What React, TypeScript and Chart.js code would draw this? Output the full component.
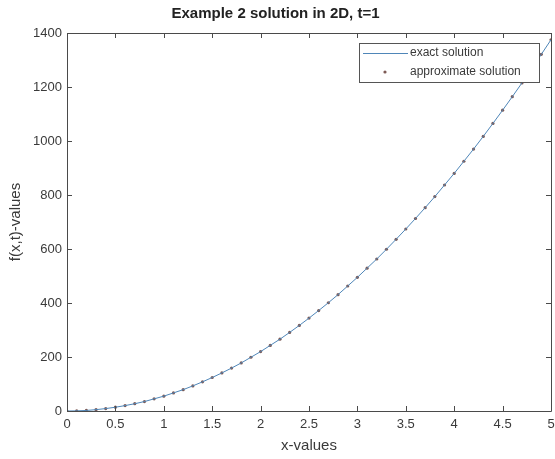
import React, { useEffect, useRef } from "react";
import { Chart, registerables } from "chart.js";

Chart.register(...registerables);

const titleText = "Example 2 solution in 2D, t=1";
const xAxisLabel = "x-values";
const yAxisLabel = "f(x,t)-values";
const exactLabel = "exact solution";
const approxLabel = "approximate solution";

const xValues = [
  0, 0.1, 0.2, 0.3, 0.4, 0.5, 0.6, 0.7, 0.8, 0.9,
  1.0, 1.1, 1.2, 1.3, 1.4, 1.5, 1.6, 1.7, 1.8, 1.9,
  2.0, 2.1, 2.2, 2.3, 2.4, 2.5, 2.6, 2.7, 2.8, 2.9,
  3.0, 3.1, 3.2, 3.3, 3.4, 3.5, 3.6, 3.7, 3.8, 3.9,
  4.0, 4.1, 4.2, 4.3, 4.4, 4.5, 4.6, 4.7, 4.8, 4.9, 5.0,
];

const exactValues = [
  0, 0.5, 2, 5, 9, 14, 20, 27, 35, 45,
  55, 67, 79, 93, 108, 124, 141, 159, 178, 199,
  220, 243, 266, 291, 317, 344, 372, 401, 431, 463,
  495, 529, 563, 599, 636, 674, 713, 753, 794, 837,
  880, 925, 970, 1017, 1065, 1114, 1164, 1215, 1267, 1321, 1375,
];

const approxValues = [
  0, 0.5, 2, 5, 9, 14, 20, 27, 35, 45,
  55, 67, 79, 93, 108, 124, 141, 159, 178, 199,
  220, 243, 266, 291, 317, 344, 372, 401, 431, 463,
  495, 529, 563, 599, 636, 674, 713, 753, 794, 837,
  880, 925, 970, 1017, 1065, 1114, 1164, 1215, 1267, 1321, 1375,
];

const xTicks = [0, 0.5, 1, 1.5, 2, 2.5, 3, 3.5, 4, 4.5, 5];
const yTicks = [0, 200, 400, 600, 800, 1000, 1200, 1400];

const FONT = "'Liberation Sans', Arial, Helvetica, sans-serif";
const AXIS_COLOR = "#4a4a4a";
const TEXT_COLOR = "#3a3a3a";
const LINE_COLOR = "#4f86b8";
const MARKER_COLOR = "#7d5a55";

const framePlugin = {
  id: "matlabFrame",
  afterDraw(chart: any) {
    const ctx = chart.ctx;
    const { left, right, top, bottom } = chart.chartArea;
    const xs = chart.scales.x;
    const ys = chart.scales.y;
    ctx.save();
    ctx.strokeStyle = AXIS_COLOR;
    ctx.lineWidth = 1;
    ctx.beginPath();
    ctx.rect(Math.round(left) + 0.5, Math.round(top) + 0.5, Math.round(right - left), Math.round(bottom - top));
    ctx.stroke();
    const tl = 5;
    ctx.beginPath();
    xTicks.forEach((v) => {
      const px = Math.round(xs.getPixelForValue(v)) + 0.5;
      ctx.moveTo(px, bottom);
      ctx.lineTo(px, bottom - tl);
      ctx.moveTo(px, top);
      ctx.lineTo(px, top + tl);
    });
    yTicks.forEach((v) => {
      const py = Math.round(ys.getPixelForValue(v)) + 0.5;
      ctx.moveTo(left, py);
      ctx.lineTo(left + tl, py);
      ctx.moveTo(right, py);
      ctx.lineTo(right - tl, py);
    });
    ctx.stroke();

    // legend
    const lx = 359, ly = 43, lw = 180, lh = 39;
    ctx.fillStyle = "#ffffff";
    ctx.fillRect(lx, ly, lw, lh);
    ctx.strokeStyle = "#555555";
    ctx.strokeRect(lx + 0.5, ly + 0.5, lw, lh);
    const ds = chart.data.datasets;
    ctx.font = `12px ${FONT}`;
    ctx.fillStyle = TEXT_COLOR;
    ctx.textBaseline = "middle";
    ctx.textAlign = "left";
    const row1 = ly + 10, row2 = ly + 29;
    ctx.strokeStyle = LINE_COLOR;
    ctx.beginPath();
    ctx.moveTo(lx + 4, row1 + 0.5);
    ctx.lineTo(lx + 49, row1 + 0.5);
    ctx.stroke();
    ctx.fillText(ds[0].label, lx + 51, row1);
    ctx.fillStyle = MARKER_COLOR;
    ctx.beginPath();
    ctx.arc(lx + 26, row2, 1.6, 0, Math.PI * 2);
    ctx.fill();
    ctx.fillStyle = TEXT_COLOR;
    ctx.fillText(ds[1].label, lx + 51, row2);
    ctx.restore();
  },
};

export default function App() {
  const ref = useRef<HTMLCanvasElement | null>(null);
  useEffect(() => {
    document.body.style.margin = "0";
    const canvas = ref.current;
    if (!canvas) return;
    const exactData = xValues.map((x, i) => ({ x, y: exactValues[i] }));
    const approxData = xValues.map((x, i) => ({ x, y: approxValues[i] }));
    const chart = new Chart(canvas, {
      type: "scatter",
      data: {
        datasets: [
          {
            label: exactLabel,
            data: exactData,
            showLine: true,
            borderColor: LINE_COLOR,
            borderWidth: 1,
            pointRadius: 0,
            fill: false,
          },
          {
            label: approxLabel,
            data: approxData,
            showLine: false,
            pointRadius: 1.6,
            pointBackgroundColor: MARKER_COLOR,
            pointBorderWidth: 0,
            backgroundColor: MARKER_COLOR,
          },
        ],
      },
      options: {
        animation: false,
        responsive: false,
        maintainAspectRatio: false,
        layout: { padding: { left: 0, right: 4, top: 0, bottom: 0 } },
        plugins: {
          legend: { display: false },
          tooltip: { enabled: false },
          title: {
            display: true,
            text: titleText,
            color: "#222222",
            font: { family: FONT, size: 15, weight: "bold" },
            padding: { top: 5, bottom: 10 },
          },
        },
        scales: {
          x: {
            type: "linear",
            min: 0,
            max: 5,
            grid: { display: false, drawTicks: false },
            border: { display: false },
            afterBuildTicks: (s: any) => {
              s.ticks = xTicks.map((v) => ({ value: v }));
            },
            afterFit: (s: any) => {
              s.height = 48;
              s.paddingLeft = 0;
              s.paddingRight = 0;
            },
            ticks: {
              color: TEXT_COLOR,
              font: { family: FONT, size: 13 },
              padding: 6,
              maxRotation: 0,
              autoSkip: false,
              callback: (v: any) => String(v),
            },
            title: {
              display: true,
              text: xAxisLabel,
              color: TEXT_COLOR,
              font: { family: FONT, size: 15 },
              padding: { top: 0, bottom: 4 },
            },
          },
          y: {
            type: "linear",
            min: 0,
            max: 1400,
            grid: { display: false, drawTicks: false },
            border: { display: false },
            afterBuildTicks: (s: any) => {
              s.ticks = yTicks.map((v) => ({ value: v }));
            },
            afterFit: (s: any) => {
              s.width = 67;
              s.paddingTop = 0;
              s.paddingBottom = 0;
            },
            ticks: {
              color: TEXT_COLOR,
              font: { family: FONT, size: 13 },
              padding: 5,
              autoSkip: false,
              callback: (v: any) => String(v),
            },
            title: {
              display: true,
              text: yAxisLabel,
              color: TEXT_COLOR,
              font: { family: FONT, size: 15 },
              padding: { top: 7, bottom: 0 },
            },
          },
        },
      },
      plugins: [framePlugin],
    });
    return () => chart.destroy();
  }, []);
  return (
    <div style={{ position: "absolute", left: 0, top: 0, width: 555, height: 459, background: "#fff" }}>
      <canvas ref={ref} width={555} height={459} style={{ width: 555, height: 459, display: "block" }} />
    </div>
  );
}
